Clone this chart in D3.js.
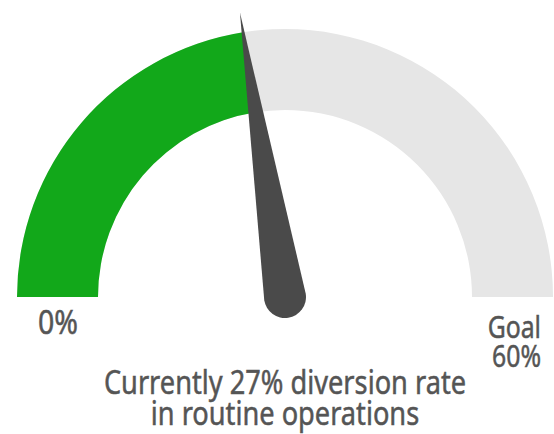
<!DOCTYPE html>
<html>
<head>
<meta charset="utf-8">
<script src="https://cdn.jsdelivr.net/npm/d3@7"></script>
<style>
  body { margin: 0; background: #fff; }
  text { font-family: "Noto Sans", sans-serif; fill: #555; stroke: #555; stroke-width: 0.5px; }
</style>
</head>
<body>
<div id="chart"></div>
<script>
// gauge data
var current = [27];
var goal = [60];
var minLabel = ['0%'];
var maxLabel = ['Goal', '60%'];
var caption = ['Currently 27% diversion rate', 'in routine operations'];

var width = 554, height = 434;
var cx = 285, cy = 297;
var outerR = 268, innerR = 187;

var svg = d3.select('#chart').append('svg')
    .attr('width', width)
    .attr('height', height);

// value -> angle (radians, 0 = up)
var angle = d3.scaleLinear()
    .domain([0, goal[0]])
    .range([-Math.PI / 2, Math.PI / 2]);

var arc = d3.arc()
    .innerRadius(innerR)
    .outerRadius(outerR);

var g = svg.append('g').attr('transform', 'translate(' + cx + ',' + cy + ')');

g.append('path')
    .attr('d', arc({startAngle: angle(0), endAngle: angle(goal[0])}))
    .attr('fill', '#e6e6e6');

g.append('path')
    .attr('d', arc({startAngle: angle(0), endAngle: angle(current[0])}))
    .attr('fill', '#12a81a');

// needle
var needleLen = 288, baseR = 21;
var a = angle(current[0]);
var tip = [needleLen * Math.sin(a), -needleLen * Math.cos(a)];
var p1 = [baseR * Math.cos(a), baseR * Math.sin(a)];
var p2 = [-p1[0], -p1[1]];
var needle = d3.path();
needle.moveTo(p1[0], p1[1]);
needle.lineTo(tip[0], tip[1]);
needle.lineTo(p2[0], p2[1]);
needle.arc(0, 0, baseR, a + Math.PI, a, true);
needle.closePath();

g.append('path')
    .attr('d', needle.toString())
    .attr('fill', '#4a4a4a');

// labels (condensed look: squeeze horizontally)
function squeeze(sel, ax, k) {
    sel.attr('transform', 'translate(' + ax + ',0) scale(' + k + ',1) translate(' + (-ax) + ',0)');
}

svg.append('text')
    .attr('x', 38).attr('y', 334)
    .attr('font-size', 32)
    .attr('textLength', 40).attr('lengthAdjust', 'spacingAndGlyphs')
    .text(minLabel[0]);

svg.selectAll('.goal').data(maxLabel).enter().append('text')
    .attr('class', 'goal')
    .attr('x', 541).attr('y', function (d, i) { return 338 + i * 29; })
    .attr('text-anchor', 'end')
    .attr('font-size', 31)
    .text(function (d) { return d; })
    .call(squeeze, 541, 0.8);

svg.selectAll('.caption').data(caption).enter().append('text')
    .attr('class', 'caption')
    .attr('x', cx).attr('y', function (d, i) { return 394 + i * 31; })
    .attr('text-anchor', 'middle')
    .attr('font-size', 32)
    .text(function (d) { return d; })
    .call(squeeze, cx, 0.85);
</script>
</body>
</html>
